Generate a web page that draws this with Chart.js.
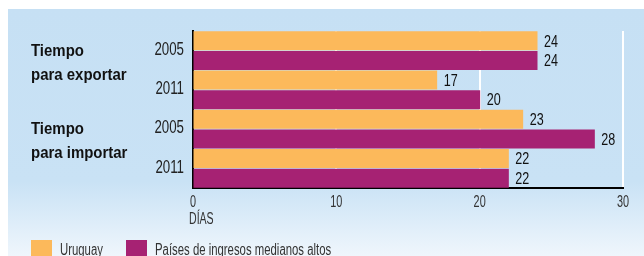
<!DOCTYPE html>
<html>
<head>
<meta charset="utf-8">
<script src="https://cdn.jsdelivr.net/npm/chart.js@4"></script>
<style>
  html, body { margin: 0; padding: 0; background: #fff; }
  #wrap { width: 644px; height: 256px; }
</style>
</head>
<body>
<div id="wrap"><canvas id="chart" width="644" height="256"></canvas></div>
<script>
const years = ['2005', '2011', '2005', '2011'];
const uruguay = [24, 17, 23, 22];
const medianosAltos = [24, 20, 28, 22];
const seriesNames = ['Uruguay', 'Países de ingresos medianos altos'];
const groups = [['Tiempo', 'para exportar'], ['Tiempo', 'para importar']];
const axisTitle = 'DÍAS';
const xMax = 30;
const xStep = 10;

const FONT = '"Liberation Sans", Arial, sans-serif';
const orange = '#fcb95b';
const purple = '#a62273';

// squeezed text, the original uses a condensed face
function condText(ctx, text, x, y, size, opts) {
    const o = Object.assign({ bold: false, align: 'left', sx: 0.7, base: 'middle', color: '#1a1a1a' }, opts);
    ctx.save();
    ctx.font = (o.bold ? 'bold ' : '') + size + 'px ' + FONT;
    ctx.fillStyle = o.color;
    ctx.textBaseline = o.base;
    ctx.textAlign = o.align;
    ctx.translate(x, y);
    ctx.scale(o.sx, 1);
    ctx.fillText(text, 0, 0);
    ctx.restore();
}

const extras = {
    id: 'extras',
    beforeDraw(chart) {
        const ctx = chart.ctx;
        ctx.save();
        ctx.fillStyle = '#fff';
        ctx.fillRect(0, 0, chart.width, chart.height);
        const g = ctx.createLinearGradient(0, 9, 0, chart.height);
        g.addColorStop(0, '#c6e0f4');
        g.addColorStop(0.7, '#c9e2f5');
        g.addColorStop(1, '#eff6fc');
        ctx.fillStyle = g;
        ctx.fillRect(8, 9, chart.width - 8, chart.height - 9);
        ctx.restore();
    },
    afterDraw(chart) {
        const ctx = chart.ctx;
        const x = chart.scales.x;
        const y = chart.scales.y;

        // value labels
        chart.data.datasets.forEach((ds, di) => {
            chart.getDatasetMeta(di).data.forEach((bar, i) => {
                condText(ctx, String(ds.data[i]), bar.x + 7, bar.y + 1, 17, { sx: 0.74, color: '#111' });
            });
        });

        // year labels (y ticks)
        y.ticks.forEach((t, i) => {
            condText(ctx, years[i], x.left - 9, y.getPixelForValue(i) - 1, 19, { align: 'right', color: '#222' });
        });

        // x tick labels
        x.ticks.forEach(t => {
            condText(ctx, String(t.value), x.getPixelForValue(t.value), 203, 16, { align: 'center', sx: 0.68, color: '#333' });
        });
        condText(ctx, axisTitle, x.left - 4, 220, 16, { sx: 0.66, color: '#333' });

        // group titles
        groups.forEach((lines, gi) => {
            const yc = y.getPixelForValue(gi * 2);
            lines.forEach((t, li) => condText(ctx, t, 31, yc + 5 + li * 24, 17, { bold: true, sx: 0.88, base: 'alphabetic', color: '#111' }));
        });

        // legend
        const legendX = [31, 126];
        chart.data.datasets.forEach((ds, i) => {
            ctx.fillStyle = ds.backgroundColor;
            ctx.fillRect(legendX[i], 240, 21, 18);
            condText(ctx, ds.label, legendX[i] + 29, 251, 16, { sx: 0.71, color: '#333' });
        });
    }
};

new Chart(document.getElementById('chart'), {
    type: 'bar',
    data: {
        labels: years,
        datasets: [
            { label: seriesNames[0], data: uruguay, backgroundColor: orange },
            { label: seriesNames[1], data: medianosAltos, backgroundColor: purple }
        ]
    },
    options: {
        indexAxis: 'y',
        responsive: false,
        animation: false,
        devicePixelRatio: 1,
        layout: { padding: { top: 31, right: 21, left: 0, bottom: 0 } },
        datasets: { bar: { categoryPercentage: 1, barPercentage: 0.92, inflateAmount: 0.5 } },
        plugins: { legend: { display: false }, tooltip: { enabled: false } },
        scales: {
            x: {
                min: 0,
                max: xMax,
                afterFit(scale) { scale.height = 68; },
                ticks: { stepSize: xStep, display: false },
                grid: {
                    drawTicks: false,
                    color: ctx => ctx.tick && ctx.tick.value === 0 ? 'rgba(0,0,0,0)' : '#ffffff',
                    lineWidth: 2
                },
                border: { color: '#000', width: 2 }
            },
            y: {
                afterFit(scale) { scale.width = 193; },
                ticks: { display: false },
                grid: { display: false },
                border: { color: '#000', width: 2 }
            }
        }
    },
    plugins: [extras]
});
</script>
</body>
</html>
